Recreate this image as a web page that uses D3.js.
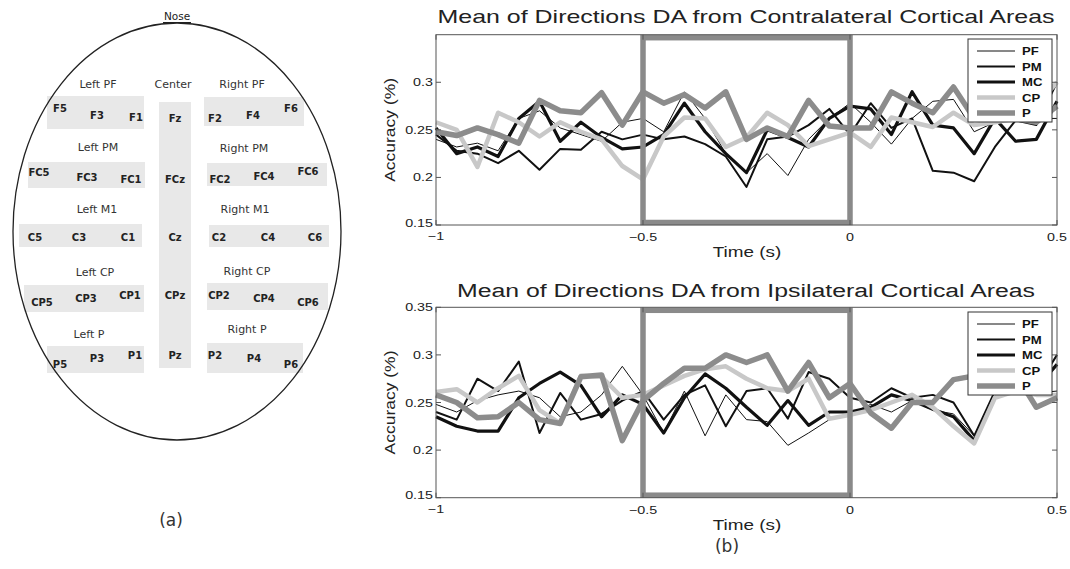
<!DOCTYPE html>
<html>
<head>
<meta charset="utf-8">
<script src="https://cdn.jsdelivr.net/npm/d3@7"></script>
<style>
  body { margin: 0; background: #fff; }
  svg { display: block; }
</style>
</head>
<body>
<svg id="fig" width="1070" height="569"></svg>
<script>
// ---- data ----
const times = [-1, -0.95, -0.9, -0.85, -0.8, -0.75, -0.7, -0.65, -0.6, -0.55, -0.5,
  -0.45, -0.4, -0.35, -0.3, -0.25, -0.2, -0.15, -0.1, -0.05, 0,
  0.05, 0.1, 0.15, 0.2, 0.25, 0.3, 0.35, 0.4, 0.45, 0.5];

const seriesNames = ['PF', 'PM', 'MC', 'CP', 'P'];

const contraPF = [0.240, 0.232, 0.236, 0.228, 0.262, 0.270, 0.252, 0.245, 0.238, 0.258, 0.262, 0.248, 0.290, 0.262, 0.225, 0.205, 0.225, 0.202, 0.240, 0.262, 0.278, 0.258, 0.235, 0.262, 0.280, 0.282, 0.248, 0.258, 0.270, 0.262, 0.262];
const contraPM = [0.245, 0.228, 0.225, 0.215, 0.228, 0.208, 0.230, 0.229, 0.248, 0.240, 0.245, 0.240, 0.243, 0.235, 0.222, 0.190, 0.240, 0.243, 0.255, 0.272, 0.245, 0.278, 0.252, 0.262, 0.207, 0.205, 0.196, 0.232, 0.260, 0.255, 0.300];
const contraMC = [0.252, 0.225, 0.232, 0.222, 0.262, 0.280, 0.238, 0.258, 0.242, 0.230, 0.232, 0.245, 0.278, 0.248, 0.225, 0.205, 0.250, 0.242, 0.232, 0.262, 0.275, 0.272, 0.245, 0.290, 0.255, 0.252, 0.225, 0.262, 0.238, 0.240, 0.280];
const contraCP = [0.258, 0.250, 0.211, 0.268, 0.258, 0.243, 0.258, 0.248, 0.240, 0.212, 0.198, 0.243, 0.263, 0.262, 0.232, 0.242, 0.268, 0.255, 0.233, 0.240, 0.247, 0.232, 0.263, 0.258, 0.253, 0.268, 0.255, 0.258, 0.262, 0.275, 0.300];
const contraP  = [0.248, 0.244, 0.252, 0.245, 0.236, 0.281, 0.270, 0.268, 0.289, 0.255, 0.290, 0.278, 0.287, 0.273, 0.290, 0.240, 0.252, 0.243, 0.281, 0.254, 0.252, 0.252, 0.290, 0.278, 0.268, 0.295, 0.262, 0.268, 0.262, 0.258, 0.275];

const ipsiPF = [0.248, 0.240, 0.252, 0.258, 0.262, 0.255, 0.235, 0.240, 0.258, 0.288, 0.258, 0.218, 0.262, 0.215, 0.258, 0.232, 0.230, 0.205, 0.218, 0.232, 0.238, 0.248, 0.240, 0.252, 0.242, 0.238, 0.215, 0.255, 0.262, 0.260, 0.262];
const ipsiPM = [0.240, 0.232, 0.275, 0.262, 0.293, 0.218, 0.260, 0.232, 0.238, 0.252, 0.262, 0.232, 0.258, 0.268, 0.225, 0.262, 0.265, 0.233, 0.282, 0.275, 0.255, 0.250, 0.265, 0.255, 0.258, 0.250, 0.215, 0.262, 0.262, 0.265, 0.300];
const ipsiMC = [0.235, 0.225, 0.220, 0.220, 0.255, 0.270, 0.282, 0.268, 0.235, 0.258, 0.248, 0.218, 0.255, 0.280, 0.265, 0.245, 0.226, 0.252, 0.226, 0.240, 0.240, 0.245, 0.258, 0.252, 0.243, 0.235, 0.210, 0.255, 0.268, 0.265, 0.290];
const ipsiCP = [0.261, 0.264, 0.250, 0.265, 0.278, 0.242, 0.228, 0.278, 0.277, 0.255, 0.258, 0.268, 0.278, 0.285, 0.288, 0.275, 0.265, 0.262, 0.275, 0.233, 0.237, 0.242, 0.250, 0.258, 0.245, 0.225, 0.207, 0.255, 0.262, 0.258, 0.258];
const ipsiP  = [0.258, 0.250, 0.234, 0.235, 0.250, 0.232, 0.228, 0.277, 0.279, 0.210, 0.252, 0.270, 0.286, 0.286, 0.300, 0.292, 0.300, 0.262, 0.292, 0.255, 0.270, 0.239, 0.223, 0.250, 0.250, 0.274, 0.278, 0.282, 0.280, 0.245, 0.255];

const xTicks = [-1, -0.5, 0, 0.5];
const yTicksContra = [0.15, 0.2, 0.25, 0.3];
const yTicksIpsi = [0.15, 0.2, 0.25, 0.3, 0.35];
const highlightWindow = [-0.5, 0];

// electrode map (a): region boxes, region names, electrode names
const mapBoxes = [
  [47, 96, 97, 33], [159, 102, 32, 266], [204, 97, 100, 29],
  [28, 162, 117, 26], [207, 163, 120, 23],
  [19, 224, 123, 23], [209, 225, 120, 22],
  [24, 285, 120, 27], [207, 283, 121, 27],
  [47, 346, 97, 27], [207, 343, 96, 30]
];
const regionLabels = [
  ['Left PF', 98, 84], ['Center', 173, 84], ['Right PF', 242, 84],
  ['Left PM', 98, 147], ['Right PM', 244, 148],
  ['Left M1', 97, 209], ['Right M1', 245, 209],
  ['Left CP', 95, 272], ['Right CP', 247, 271],
  ['Left P', 89, 334], ['Right P', 247, 329]
];
const electrodes = [
  ['F5', 60, 108], ['F3', 97, 115], ['F1', 136, 117], ['Fz', 175, 118], ['F2', 215, 118], ['F4', 253, 115], ['F6', 291, 108],
  ['FC5', 39, 172], ['FC3', 87, 177], ['FC1', 131, 179], ['FCz', 175, 179], ['FC2', 220, 179], ['FC4', 264, 176], ['FC6', 308, 171],
  ['C5', 35, 237], ['C3', 79, 237], ['C1', 128, 237], ['Cz', 175, 237], ['C2', 219, 237], ['C4', 268, 237], ['C6', 315, 237],
  ['CP5', 42, 302], ['CP3', 86, 298], ['CP1', 130, 295], ['CPz', 175, 295], ['CP2', 219, 295], ['CP4', 264, 298], ['CP6', 308, 302],
  ['P5', 60, 364], ['P3', 97, 358], ['P1', 135, 355], ['Pz', 175, 355], ['P2', 215, 355], ['P4', 254, 358], ['P6', 291, 364]
];

// ---- styles ----
const lineColors = { PF: '#111', PM: '#111', MC: '#111', CP: '#c8c8c8', P: '#8c8c8c' };
const lineWidths = { PF: 1, PM: 2, MC: 3.2, CP: 4.5, P: 5.5 };
const chartFont = "'Liberation Sans', Arial, Helvetica, sans-serif";
const mapFont = "'DejaVu Sans', Verdana, sans-serif";

const svg = d3.select('#fig');

// text that looks horizontally stretched, like the scanned figure
function stretchedText(parent, x, y, str, sx, opts = {}) {
  return parent.append('text')
    .attr('transform', `translate(${x},${y}) scale(${sx},1)`)
    .attr('text-anchor', opts.anchor || 'middle')
    .attr('font-family', chartFont)
    .attr('font-size', opts.size || 11)
    .attr('font-weight', opts.weight || 'normal')
    .attr('fill', opts.fill || '#222')
    .text(str);
}

function drawPanel(cfg) {
  const x = d3.scaleLinear().domain([-1, 0.5]).range([436, 1057]);
  const y = d3.scaleLinear().domain([0.15, 0.35]).range([cfg.bottom, cfg.top]);
  const g = svg.append('g').attr('class', 'panel');

  // title
  g.append('text')
    .attr('x', 746)
    .attr('y', cfg.titleY)
    .attr('text-anchor', 'middle')
    .attr('font-family', chartFont)
    .attr('font-size', cfg.titleSize)
    .attr('fill', '#222')
    .attr('textLength', cfg.titleLength)
    .attr('lengthAdjust', 'spacingAndGlyphs')
    .text(cfg.title);

  // series
  const line = d3.line()
    .x((d, i) => x(times[i]))
    .y(d => y(d));

  seriesNames.forEach(name => {
    g.append('path')
      .datum(cfg.series[name])
      .attr('fill', 'none')
      .attr('stroke', lineColors[name])
      .attr('stroke-width', lineWidths[name])
      .attr('stroke-linejoin', 'round')
      .attr('d', line);
  });

  // highlighted window
  g.append('rect')
    .attr('x', x(highlightWindow[0]))
    .attr('y', y(0.35) + 3)
    .attr('width', x(highlightWindow[1]) - x(highlightWindow[0]))
    .attr('height', y(0.15) - y(0.35) - 5.5)
    .attr('fill', 'none')
    .attr('stroke', '#8a8a8a')
    .attr('stroke-width', 5.5);

  // box + inward ticks
  g.append('rect')
    .attr('x', x(-1))
    .attr('y', y(0.35))
    .attr('width', x(0.5) - x(-1))
    .attr('height', y(0.15) - y(0.35))
    .attr('fill', 'none')
    .attr('stroke', '#555')
    .attr('stroke-width', 1);

  const ticks = g.append('g').attr('stroke', '#555').attr('stroke-width', 1);
  cfg.yTicks.forEach(v => {
    ticks.append('line').attr('x1', x(-1)).attr('x2', x(-1) + 5).attr('y1', y(v)).attr('y2', y(v));
    ticks.append('line').attr('x1', x(0.5)).attr('x2', x(0.5) - 5).attr('y1', y(v)).attr('y2', y(v));
  });
  xTicks.forEach(v => {
    ticks.append('line').attr('x1', x(v)).attr('x2', x(v)).attr('y1', y(0.15)).attr('y2', y(0.15) - 5);
    ticks.append('line').attr('x1', x(v)).attr('x2', x(v)).attr('y1', y(0.35)).attr('y2', y(0.35) + 5);
  });

  // tick labels (lowest y label nudged up, first x label kept clear of it)
  cfg.yTicks.forEach((v, i) => {
    const dy = i === 0 ? 1.5 : 4;
    stretchedText(g, x(-1) - 3, y(v) + dy, String(v), 1.3, { anchor: 'end' });
  });
  xTicks.forEach((v, i) => {
    const label = v < 0 ? '\u2212' + Math.abs(v) : String(v);
    const dy = i === 0 ? -1 : 0;
    stretchedText(g, x(v), y(0.15) + 16 + dy, label, 1.3);
  });

  // axis labels
  stretchedText(g, 747, cfg.bottom + 32, 'Time (s)', 1.35, { size: 14 });
  g.append('text')
    .attr('transform', `translate(395,${(cfg.top + cfg.bottom) / 2}) rotate(-90)`)
    .attr('text-anchor', 'middle')
    .attr('font-family', chartFont)
    .attr('font-size', 15)
    .attr('fill', '#222')
    .attr('textLength', 104)
    .attr('lengthAdjust', 'spacingAndGlyphs')
    .text('Accuracy (%)');

  // legend
  const lg = g.append('g').attr('transform', `translate(968,${cfg.legendTop})`);
  lg.append('rect')
    .attr('width', 84).attr('height', 83)
    .attr('fill', '#fff').attr('stroke', '#333').attr('stroke-width', 1);
  seriesNames.forEach((name, i) => {
    const ly = 12 + i * 15.5;
    lg.append('line')
      .attr('x1', 9).attr('x2', 47)
      .attr('y1', ly).attr('y2', ly)
      .attr('stroke', lineColors[name])
      .attr('stroke-width', lineWidths[name]);
    stretchedText(lg, 54, ly + 4, name, 1.25, { anchor: 'start', size: 10.5, weight: 'bold', fill: '#111' });
  });
}

drawPanel({
  title: 'Mean of Directions DA from Contralateral Cortical Areas',
  titleY: 23, titleSize: 19, titleLength: 617,
  top: 34.7, bottom: 225,
  yTicks: yTicksContra,
  legendTop: 39,
  series: { PF: contraPF, PM: contraPM, MC: contraMC, CP: contraCP, P: contraP }
});

drawPanel({
  title: 'Mean of Directions DA from Ipsilateral Cortical Areas',
  titleY: 297, titleSize: 18, titleLength: 578,
  top: 307.3, bottom: 497.7,
  yTicks: yTicksIpsi,
  legendTop: 312,
  series: { PF: ipsiPF, PM: ipsiPM, MC: ipsiMC, CP: ipsiCP, P: ipsiP }
});

// ---- (a) electrode map ----
const mapG = svg.append('g').attr('class', 'electrode-map');

mapG.selectAll('rect.region')
  .data(mapBoxes)
  .enter()
  .append('rect')
  .attr('class', 'region')
  .attr('x', d => d[0]).attr('y', d => d[1])
  .attr('width', d => d[2]).attr('height', d => d[3])
  .attr('fill', '#e8e8e8');

mapG.append('ellipse')
  .attr('cx', 177).attr('cy', 231.5)
  .attr('rx', 164).attr('ry', 208.5)
  .attr('fill', 'none')
  .attr('stroke', '#222')
  .attr('stroke-width', 1.3);

mapG.append('text')
  .attr('x', 177).attr('y', 20)
  .attr('text-anchor', 'middle')
  .attr('font-family', mapFont)
  .attr('font-size', 10.5)
  .attr('fill', '#222')
  .text('Nose');
mapG.append('line')
  .attr('x1', 163).attr('x2', 191).attr('y1', 22.5).attr('y2', 22.5)
  .attr('stroke', '#222').attr('stroke-width', 1);

mapG.selectAll('text.region-label')
  .data(regionLabels)
  .enter()
  .append('text')
  .attr('class', 'region-label')
  .attr('x', d => d[1]).attr('y', d => d[2])
  .attr('dy', '0.35em')
  .attr('text-anchor', 'middle')
  .attr('font-family', mapFont)
  .attr('font-size', 11)
  .attr('fill', '#333')
  .text(d => d[0]);

mapG.selectAll('text.electrode')
  .data(electrodes)
  .enter()
  .append('text')
  .attr('class', 'electrode')
  .attr('x', d => d[1]).attr('y', d => d[2])
  .attr('dy', '0.35em')
  .attr('text-anchor', 'middle')
  .attr('font-family', mapFont)
  .attr('font-size', 10)
  .attr('font-weight', 'bold')
  .attr('fill', '#222')
  .text(d => d[0]);

// panel letters
svg.append('text')
  .attr('x', 171).attr('y', 526)
  .attr('text-anchor', 'middle')
  .attr('font-family', mapFont)
  .attr('font-size', 17)
  .attr('fill', '#333')
  .text('(a)');
svg.append('text')
  .attr('x', 727).attr('y', 552)
  .attr('text-anchor', 'middle')
  .attr('font-family', mapFont)
  .attr('font-size', 17)
  .attr('fill', '#333')
  .text('(b)');
</script>
</body>
</html>
